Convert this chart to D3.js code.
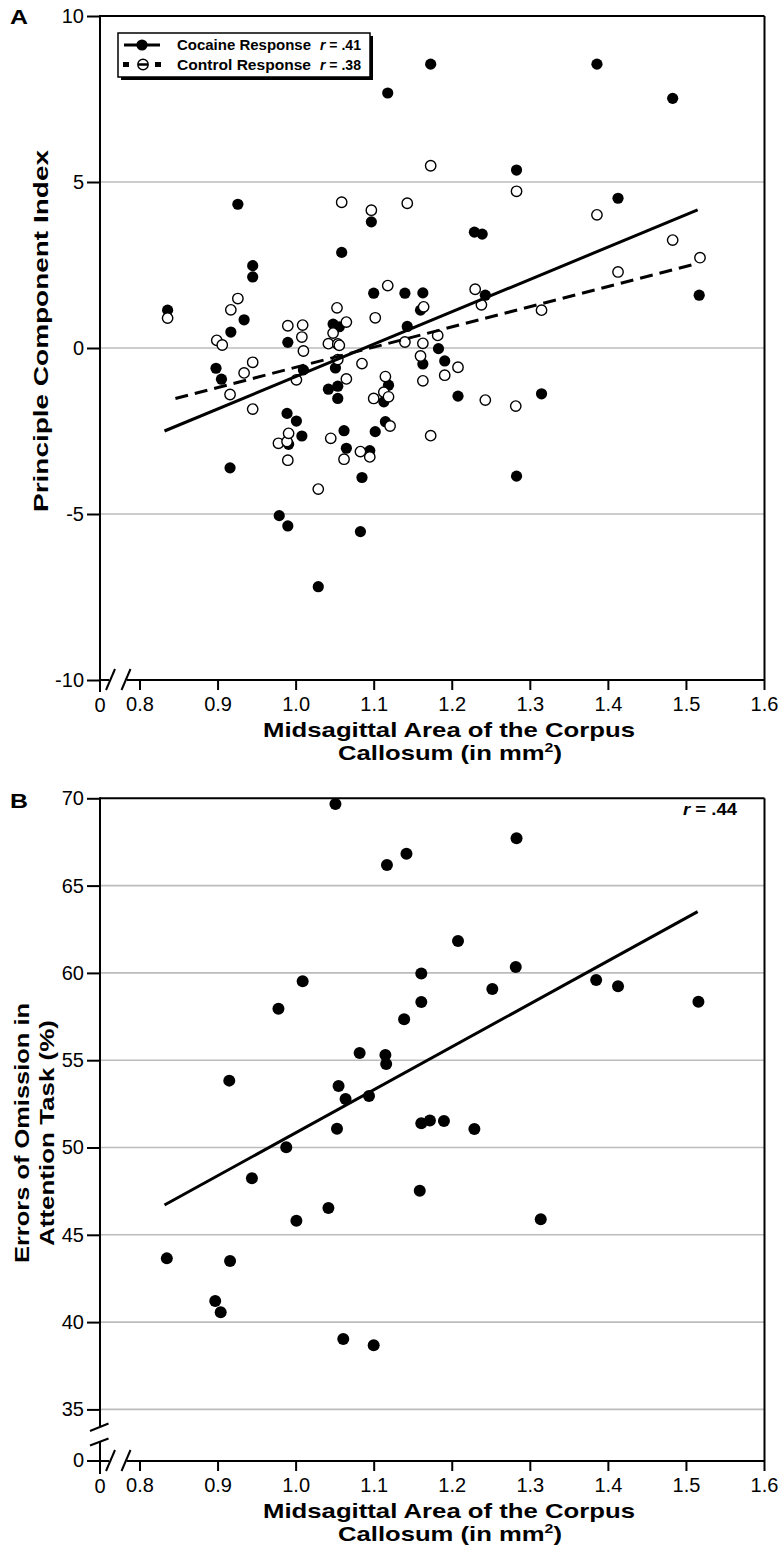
<!DOCTYPE html>
<html><head><meta charset="utf-8">
<script src="https://cdn.jsdelivr.net/npm/d3@7"></script>
<style>
body{margin:0;background:#fff}
svg{display:block}
text{font-family:"Liberation Sans",Arial,Helvetica,sans-serif;fill:#000}
</style>
</head><body>
<svg id="c" width="784" height="1563"></svg>
<script>
// ---------- data ----------
const xTicks = [0.8, 0.9, 1.0, 1.1, 1.2, 1.3, 1.4, 1.5, 1.6];
const aYTicks = [-10, -5, 0, 5, 10];
const aGrid = [-5, 0, 5];
const bYTicks = [35, 40, 45, 50, 55, 60, 65, 70];
const bGrid = [35, 40, 45, 50, 55, 60, 65];

// Panel A: cocaine response (filled)
const cocaineArea = [0.836,1.173,1.118,1.386,1.483,1.283,0.926,1.413,1.229,1.239,0.945,0.945,1.059,1.097,1.100,1.140,1.163,1.243,1.517,0.934,0.917,0.990,1.048,1.056,1.160,1.143,0.898,0.905,1.010,1.051,1.042,1.054,1.054,1.119,1.113,1.183,1.191,1.163,1.208,1.315,1.115,0.989,1.001,1.008,0.991,1.062,1.065,1.095,1.102,0.916,1.085,0.979,0.990,1.083,1.029,1.283];
const cocaineIndex = [1.14,8.55,7.68,8.55,7.52,5.36,4.33,4.51,3.49,3.43,2.48,2.14,2.88,3.80,1.65,1.65,1.66,1.59,1.59,0.85,0.48,0.17,0.72,0.64,1.14,0.65,-0.61,-0.94,-0.66,-0.60,-1.24,-1.15,-1.52,-1.12,-1.62,-0.02,-0.39,-0.48,-1.45,-1.38,-2.22,-1.97,-2.20,-2.65,-2.90,-2.49,-3.02,-3.09,-2.52,-3.61,-3.90,-5.05,-5.36,-5.53,-7.19,-3.86];
// Panel A: control response (open)
const controlArea = [0.836,1.059,1.097,1.173,1.143,1.283,1.386,1.483,1.413,1.518,1.118,1.230,1.238,1.315,1.164,0.926,0.917,1.102,1.053,1.065,0.990,1.009,1.008,1.010,1.048,1.042,1.054,1.056,0.899,0.906,0.945,0.934,0.916,1.001,1.054,1.065,1.085,1.115,1.100,1.113,1.119,1.140,1.163,1.182,1.160,1.208,1.191,1.163,1.243,1.282,1.173,1.121,0.945,0.978,0.989,0.991,0.990,1.045,1.083,1.062,1.095,1.029];
const controlIndex = [0.90,4.39,4.15,5.49,4.36,4.72,4.01,3.25,2.29,2.72,1.88,1.77,1.30,1.14,1.24,1.49,1.15,0.91,1.21,0.78,0.67,0.69,0.33,-0.09,0.45,0.13,0.12,0.08,0.23,0.09,-0.43,-0.75,-1.40,-0.96,-0.35,-0.93,-0.47,-0.86,-1.52,-1.33,-1.47,0.18,0.14,0.38,-0.24,-0.58,-0.82,-0.99,-1.57,-1.75,-2.64,-2.35,-1.84,-2.87,-2.82,-2.57,-3.38,-2.72,-3.12,-3.35,-3.28,-4.25];
// regression lines (end points)
const cocaineFitX = [0.832, 1.515];
const cocaineFitY = [-2.50, 4.16];
const controlFitX = [0.846, 1.515];
const controlFitY = [-1.52, 2.55];

// Panel B: errors of omission
const omissionArea = [1.051,1.117,1.142,1.009,0.978,1.139,1.161,1.161,1.082,1.115,1.116,0.915,1.055,1.064,1.094,1.053,0.988,0.944,1.042,1.001,0.835,0.916,0.897,0.904,1.061,1.100,1.161,1.159,1.283,1.208,1.282,1.252,1.385,1.413,1.516,1.172,1.190,1.229,1.314];
const omissionErr = [69.67,66.18,66.83,59.52,57.95,57.34,59.97,58.34,55.41,55.30,54.78,53.83,53.52,52.78,52.95,51.08,50.01,48.24,46.54,45.81,43.65,43.50,41.21,40.56,39.03,38.67,51.39,47.52,67.71,61.83,60.34,59.08,59.59,59.23,58.35,51.54,51.52,51.06,45.89];
const omissionFitX = [0.832, 1.515];
const omissionFitY = [46.71, 63.51];

// ---------- drawing ----------
const svg = d3.select('#c');
const FONT = '"Liberation Sans",Arial,Helvetica,sans-serif';
const LEFT = 100, RIGHT = 764.5;
const x = d3.scaleLinear().domain([0.8, 1.6]).range([139.5, 764]);
const yA = d3.scaleLinear().domain([-10, 10]).range([680, 16]);
const yB = d3.scaleLinear().domain([35, 70]).range([1409.4, 798.3]);
const AXIS_B_ZERO = 1461;

function line(g, x1, y1, x2, y2, w, col) {
  return g.append('line').attr('x1', x1).attr('y1', y1).attr('x2', x2).attr('y2', y2)
    .attr('stroke', col || '#000').attr('stroke-width', w || 2);
}

function xAxis(g, yPos) {
  const ax = d3.axisBottom(x).tickValues(xTicks).tickSize(10).tickPadding(7).tickFormat(d3.format('.1f'));
  const ag = g.append('g').attr('transform', `translate(0,${yPos})`).call(ax);
  ag.select('.domain').remove();
  ag.selectAll('line').attr('stroke', '#000').attr('stroke-width', 2);
  ag.selectAll('text').attr('font-size', 20).attr('font-family', FONT).attr('fill', '#000');
  // axis line with break
  line(g, LEFT - 1, yPos, 109, yPos, 2);
  line(g, 127, yPos, RIGHT, yPos, 2);
  // break slashes
  line(g, 106, yPos + 10, 115, yPos - 11, 2);
  line(g, 121.5, yPos + 10, 130.5, yPos - 11, 2);
  // "0" origin label
  g.append('text').attr('x', LEFT).attr('y', yPos + 32).attr('text-anchor', 'middle')
    .attr('font-size', 20).text('0');
}

function yAxis(g, scale, ticks) {
  const ax = d3.axisLeft(scale).tickValues(ticks).tickSize(13).tickPadding(3).tickFormat(d => String(d));
  const ag = g.append('g').attr('transform', `translate(${LEFT},0)`).call(ax);
  ag.select('.domain').remove();
  ag.selectAll('line').attr('stroke', '#000').attr('stroke-width', 2);
  ag.selectAll('text').attr('font-size', 20).attr('font-family', FONT).attr('fill', '#000');
}

function grid(g, scale, vals) {
  g.selectAll(null).data(vals).enter().append('line')
    .attr('x1', LEFT).attr('x2', RIGHT)
    .attr('y1', d => scale(d)).attr('y2', d => scale(d))
    .attr('stroke', '#bcbcbc').attr('stroke-width', 1.6);
}

function xTitle(g, yPos) {
  g.append('text').attr('x', 449).attr('y', yPos + 57).attr('text-anchor', 'middle')
    .attr('font-size', 21).attr('font-weight', 'bold')
    .attr('textLength', 372).attr('lengthAdjust', 'spacingAndGlyphs')
    .text('Midsagittal Area of the Corpus');
  const t = g.append('text').attr('x', 450).attr('y', yPos + 80).attr('text-anchor', 'middle')
    .attr('font-size', 21).attr('font-weight', 'bold')
    .attr('textLength', 224).attr('lengthAdjust', 'spacingAndGlyphs');
  t.append('tspan').text('Callosum (in mm');
  t.append('tspan').attr('font-size', 13).attr('dy', -8).text('2');
  t.append('tspan').attr('dy', 8).text(')');
}

// ===== Panel A =====
const gA = svg.append('g');
grid(gA, yA, aGrid);
// frame
line(gA, LEFT, yA(10), RIGHT, yA(10), 2);
line(gA, RIGHT, yA(10), RIGHT, yA(-10), 2);
line(gA, LEFT, yA(10) - 1, LEFT, 692, 2);
yAxis(gA, yA, aYTicks);
xAxis(gA, yA(-10));

// points
gA.selectAll(null).data(d3.range(cocaineArea.length)).enter().append('circle')
  .attr('cx', i => x(cocaineArea[i])).attr('cy', i => yA(cocaineIndex[i]))
  .attr('r', 5.6).attr('fill', '#000');
gA.selectAll(null).data(d3.range(controlArea.length)).enter().append('circle')
  .attr('cx', i => x(controlArea[i])).attr('cy', i => yA(controlIndex[i]))
  .attr('r', 5.2).attr('fill', '#fff').attr('stroke', '#000').attr('stroke-width', 1.4);

// fit lines
line(gA, x(cocaineFitX[0]), yA(cocaineFitY[0]), x(cocaineFitX[1]), yA(cocaineFitY[1]), 3);
line(gA, x(controlFitX[0]), yA(controlFitY[0]), x(controlFitX[1]), yA(controlFitY[1]), 3)
  .attr('stroke-dasharray', '13,7');

// legend
const lg = gA.append('g');
lg.append('rect').attr('x', 121).attr('y', 36).attr('width', 252).attr('height', 44).attr('fill', '#000');
lg.append('rect').attr('x', 118).attr('y', 33).attr('width', 252).attr('height', 44)
  .attr('fill', '#fff').attr('stroke', '#000').attr('stroke-width', 1.5);
line(lg, 124, 45, 160, 45, 3);
lg.append('circle').attr('cx', 142).attr('cy', 45).attr('r', 5.6).attr('fill', '#000');
lg.append('rect').attr('x', 123).attr('y', 62).attr('width', 6).attr('height', 5).attr('fill', '#000');
lg.append('rect').attr('x', 155).attr('y', 62).attr('width', 6).attr('height', 5).attr('fill', '#000');
lg.append('circle').attr('cx', 143).attr('cy', 64.5).attr('r', 5.2).attr('fill', '#fff')
  .attr('stroke', '#000').attr('stroke-width', 1.4);
line(lg, 138, 64.5, 148, 64.5, 2.5);
const legRows = [['Cocaine Response', '.41', 50], ['Control Response', '.38', 70]];
legRows.forEach(([lab, r, yy]) => {
  lg.append('text').attr('x', 177).attr('y', yy).attr('font-size', 15).attr('font-weight', 'bold')
    .attr('textLength', 134).attr('lengthAdjust', 'spacingAndGlyphs').text(lab);
  const t = lg.append('text').attr('x', 320).attr('y', yy).attr('font-size', 15).attr('font-weight', 'bold')
    .attr('textLength', 41).attr('lengthAdjust', 'spacingAndGlyphs');
  t.append('tspan').attr('font-style', 'italic').text('r');
  t.append('tspan').text(' = ' + r);
});

// titles
gA.append('text').attr('x', 10).attr('y', 24).attr('font-size', 20).attr('font-weight', 'bold')
  .attr('textLength', 18).attr('lengthAdjust', 'spacingAndGlyphs').text('A');
gA.append('text').attr('transform', 'translate(48,331) rotate(-90)').attr('text-anchor', 'middle')
  .attr('font-size', 21).attr('font-weight', 'bold')
  .attr('textLength', 362).attr('lengthAdjust', 'spacingAndGlyphs')
  .text('Principle Component Index');
xTitle(gA, yA(-10));

// ===== Panel B =====
const gB = svg.append('g');
grid(gB, yB, bGrid);
line(gB, LEFT, yB(70), RIGHT, yB(70), 2);
line(gB, RIGHT, yB(70), RIGHT, AXIS_B_ZERO, 2);
// y axis with break
line(gB, LEFT, yB(70) - 1, LEFT, 1427, 2);
line(gB, LEFT, 1441, LEFT, 1474, 2);
line(gB, 90, 1431, 108.5, 1423.5, 2);
line(gB, 90, 1445.5, 108.5, 1438.5, 2);
yAxis(gB, yB, bYTicks);
// zero tick on y
line(gB, LEFT - 13, AXIS_B_ZERO, LEFT, AXIS_B_ZERO, 2);
gB.append('text').attr('x', LEFT - 16).attr('y', AXIS_B_ZERO).attr('dy', '0.32em')
  .attr('text-anchor', 'end').attr('font-size', 20).text('0');
xAxis(gB, AXIS_B_ZERO);

gB.selectAll(null).data(d3.range(omissionArea.length)).enter().append('circle')
  .attr('cx', i => x(omissionArea[i])).attr('cy', i => yB(omissionErr[i]))
  .attr('r', 6).attr('fill', '#000');
line(gB, x(omissionFitX[0]), yB(omissionFitY[0]), x(omissionFitX[1]), yB(omissionFitY[1]), 3);

const rt = gB.append('text').attr('x', 683).attr('y', 815)
  .attr('font-size', 16).attr('font-weight', 'bold')
  .attr('textLength', 54).attr('lengthAdjust', 'spacingAndGlyphs');
rt.append('tspan').attr('font-style', 'italic').text('r');
rt.append('tspan').text(' = .44');

gB.append('text').attr('x', 10).attr('y', 808).attr('font-size', 20).attr('font-weight', 'bold')
  .attr('textLength', 18).attr('lengthAdjust', 'spacingAndGlyphs').text('B');
gB.append('text').attr('transform', 'translate(29,1133) rotate(-90)').attr('text-anchor', 'middle')
  .attr('font-size', 21).attr('font-weight', 'bold')
  .attr('textLength', 260).attr('lengthAdjust', 'spacingAndGlyphs')
  .text('Errors of Omission in');
gB.append('text').attr('transform', 'translate(54,1133) rotate(-90)').attr('text-anchor', 'middle')
  .attr('font-size', 21).attr('font-weight', 'bold')
  .attr('textLength', 226).attr('lengthAdjust', 'spacingAndGlyphs')
  .text('Attention Task (%)');
xTitle(gB, AXIS_B_ZERO);
</script>
</body></html>
